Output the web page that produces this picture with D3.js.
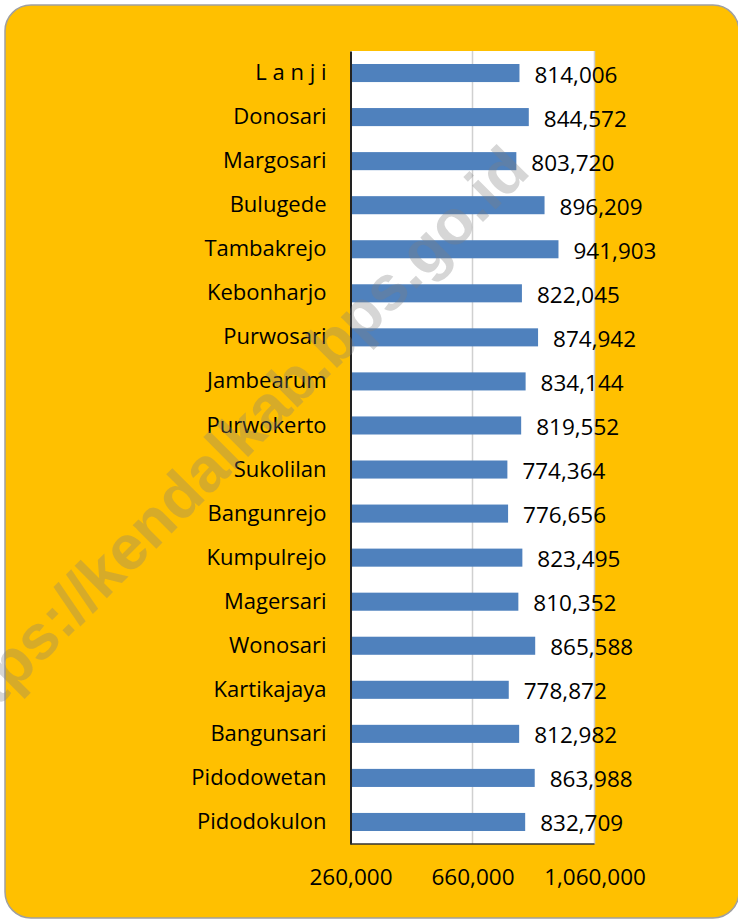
<!DOCTYPE html>
<html>
<head>
<meta charset="utf-8">
<script src="https://cdn.jsdelivr.net/npm/d3@7"></script>
<style>
  body { margin: 0; background: #fff; }
  text { font-family: "Open Sans", sans-serif; }
</style>
</head>
<body>
<div id="chart"></div>
<script>
// Data (top to bottom as shown)
const villages = ["L a n j i", "Donosari", "Margosari", "Bulugede", "Tambakrejo", "Kebonharjo",
  "Purwosari", "Jambearum", "Purwokerto", "Sukolilan", "Bangunrejo", "Kumpulrejo",
  "Magersari", "Wonosari", "Kartikajaya", "Bangunsari", "Pidodowetan", "Pidodokulon"];
const values = [814006, 844572, 803720, 896209, 941903, 822045,
  874942, 834144, 819552, 774364, 776656, 823495,
  810352, 865588, 778872, 812982, 863988, 832709];
const xTicks = [260000, 660000, 1060000];

const W = 738, H = 919;
const plot = { left: 350.5, right: 594.5, top: 51, bottom: 844 };

const svg = d3.select("#chart").append("svg")
  .attr("width", W).attr("height", H);

// orange card
svg.append("rect")
  .attr("x", 5).attr("y", 5)
  .attr("width", 734).attr("height", 913)
  .attr("rx", 26)
  .attr("fill", "#FFC000")
  .attr("stroke", "#a0a0a0").attr("stroke-width", 1.5);

// white plot area
svg.append("rect")
  .attr("x", plot.left).attr("y", plot.top)
  .attr("width", plot.right - plot.left).attr("height", plot.bottom - plot.top)
  .attr("fill", "#fff");

const x = d3.scaleLinear().domain([260000, 1060000]).range([plot.left, plot.right]);
const y = d3.scaleBand().domain(villages).range([plot.top, plot.bottom])
  .paddingInner(0.59).paddingOuter(0.295);

const data = villages.map((v, i) => ({ name: v, value: values[i] }));

// gridlines
svg.append("g")
  .selectAll("line")
  .data(xTicks.slice(1))
  .join("line")
  .attr("x1", d => x(d)).attr("x2", d => x(d))
  .attr("y1", plot.top).attr("y2", plot.bottom)
  .attr("stroke", "#d0d0d0").attr("stroke-width", 1.5);

// bars
svg.append("g")
  .selectAll("rect")
  .data(data)
  .join("rect")
  .attr("x", x(260000))
  .attr("y", d => y(d.name))
  .attr("width", d => x(d.value) - x(260000))
  .attr("height", y.bandwidth())
  .attr("fill", "#4F81BD");

// value labels
const fmt = d3.format(",");
svg.append("g")
  .selectAll("text")
  .data(data)
  .join("text")
  .attr("x", d => x(d.value) + 15)
  .attr("y", d => y(d.name) + y.bandwidth() / 2 + 1)
  .attr("dominant-baseline", "central")
  .style("font-size", "22.5px")
  .attr("fill", "#000")
  .text(d => fmt(d.value));

// axes
const yAxis = svg.append("g")
  .attr("transform", `translate(${plot.left},0)`)
  .call(d3.axisLeft(y).tickSize(0).tickPadding(24));
yAxis.select(".domain").attr("stroke", "#222").attr("stroke-width", 2);
yAxis.selectAll("text").style("font-size", "22px").attr("fill", "#000");

const xAxis = svg.append("g")
  .attr("transform", `translate(0,${plot.bottom})`)
  .call(d3.axisBottom(x).tickValues(xTicks).tickSize(0).tickPadding(25).tickFormat(fmt));
xAxis.select(".domain").remove();
xAxis.selectAll("text").style("font-size", "22.5px").attr("fill", "#000");

svg.append("line")
  .attr("x1", plot.left).attr("x2", plot.right)
  .attr("y1", plot.bottom).attr("y2", plot.bottom)
  .attr("stroke", "#333").attr("stroke-width", 1.5);

// watermark
svg.append("text")
  .attr("transform", "translate(532,173) rotate(-45)")
  .attr("text-anchor", "end")
  .style("font-family", "'Liberation Sans', Arial, sans-serif")
  .style("font-weight", "bold")
  .style("font-size", "63px")
  .attr("fill", "#7f7f7f")
  .attr("fill-opacity", 0.32)
  .text("https://kendalkab.bps.go.id");
</script>
</body>
</html>
